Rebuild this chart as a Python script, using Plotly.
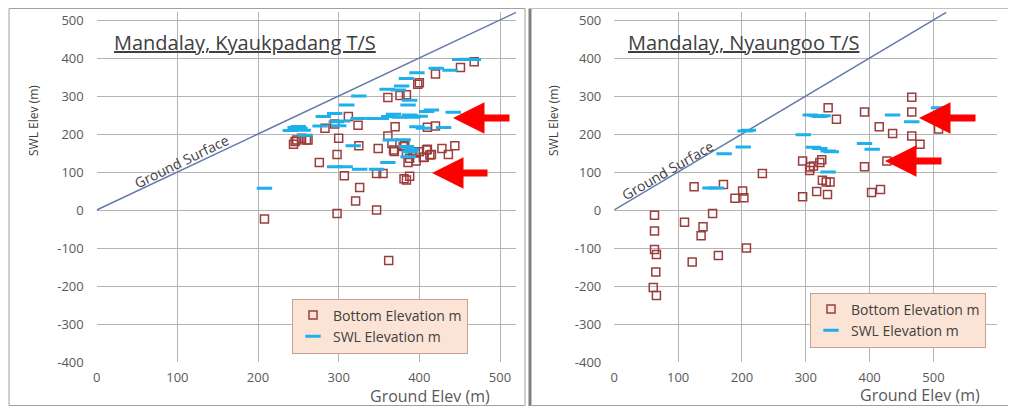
import plotly.graph_objects as go

# ---------------- data ----------------
GROUND_LINE = [0, 520]

K_BOTTOM_X = [208, 298, 347, 362, 321, 326, 307, 276, 298, 300, 312, 324, 325, 283, 295,
              244, 246, 248, 254, 260, 262, 349, 347, 355, 361, 366, 369, 370, 361, 376,
              384, 382, 384, 386, 381, 384, 388, 398, 400, 395, 396, 400, 406, 410, 415,
              410, 420, 420, 428, 436, 444, 451, 468, 388, 392, 368, 380, 409, 413, 405]
K_BOTTOM_Y = [-24, -9, 0, -133, 24, 59, 90, 125, 146, 189, 246, 223, 169, 215, 226,
              173, 180, 184, 189, 184, 184, 162, 96, 96, 195, 175, 154, 219, 296, 301,
              303, 170, 149, 125, 82, 79, 89, 331, 335, 151, 129, 153, 139, 160, 146,
              218, 221, 358, 162, 146, 169, 375, 390, 136, 153, 158, 167, 158, 145, 138]

K_SWL_X = [208, 240, 246, 252, 256, 258, 250, 277, 281, 295, 297, 310, 325, 318, 295,
           308, 326, 347, 324, 343, 353, 362, 364, 361, 360, 368, 374, 378, 384, 388,
           380, 384, 388, 386, 397, 401, 392, 388, 386, 397, 409, 415, 421, 438, 442,
           430, 450, 467, 459, 405, 375, 390, 300, 305]
K_SWL_Y = [57, 209, 217, 215, 210, 197, 220, 221, 246, 254, 232, 276, 300, 169, 114,
           114, 107, 107, 241, 241, 241, 246, 184, 125, 318, 252, 316, 326, 346, 250,
           185, 167, 289, 276, 361, 247, 244, 153, 140, 219, 259, 263, 373, 368, 257,
           217, 396, 396, 397, 215, 244, 160, 222, 234]

N_BOTTOM_X = [63, 63, 63, 66, 65, 61, 66, 110, 139, 136, 154, 122, 163, 207, 125, 171,
              201, 189, 203, 232, 295, 295, 307, 306, 312, 317, 322, 325, 326, 332, 338,
              334, 335, 348, 392, 392, 403, 417, 415, 436, 466, 466, 466, 479, 508, 427]
N_BOTTOM_Y = [-14, -55, -104, -117, -163, -204, -225, -32, -44, -68, -9, -137, -120, -100,
              61, 67, 50, 31, 32, 96, 129, 35, 113, 104, 116, 49, 125, 132, 78, 74, 74,
              41, 269, 239, 258, 114, 46, 54, 219, 201, 297, 258, 195, 173, 213, 129]

N_SWL_X = [150, 160, 172, 202, 210, 205, 296, 307, 317, 327, 322, 312, 322, 335, 340,
           335, 392, 404, 436, 466, 508]
N_SWL_Y = [58, 58, 148, 166, 210, 208, 198, 250, 248, 248, 246, 165, 162, 155, 153,
           100, 175, 160, 250, 232, 269]

X_TICKS_LEFT = [0, 100, 200, 300, 400, 500]
X_TICKS_RIGHT = [0, 100, 200, 300, 400, 500, 600]
Y_TICKS = [-400, -300, -200, -100, 0, 100, 200, 300, 400, 500]
Y_TICK_LABELS = ["-400", "-300", "-200", "-100", "0", "100", "200", "300", "400", "500"]

# ---------------- style ----------------
OFF = 8                      # page body margin of the browser
W, H = 1000, 398
SQ_COLOR = "#9B3D3D"
SWL_COLOR = "#1DB0EA"
LINE_COLOR = "#6477AE"
GRID = "#B4B4B4"
TXT = "#595959"
DARK = "#404040"
FONT = "Open Sans"


def px(x):
    return (x - OFF) / W


def py(y):
    return 1 - (y - OFF) / H


fig = go.Figure()

# Left panel
fig.add_trace(go.Scatter(x=GROUND_LINE, y=GROUND_LINE, mode="lines",
                         line=dict(color=LINE_COLOR, width=1.4),
                         showlegend=False, xaxis="x", yaxis="y", hoverinfo="skip"))
fig.add_trace(go.Scatter(x=K_BOTTOM_X, y=K_BOTTOM_Y, mode="markers", name="Bottom Elevation m",
                         marker=dict(symbol="square-open", size=8, color=SQ_COLOR,
                                     line=dict(width=1.5, color=SQ_COLOR)),
                         xaxis="x", yaxis="y", legend="legend"))
fig.add_trace(go.Scatter(x=K_SWL_X, y=K_SWL_Y, mode="markers", name="SWL Elevation m",
                         marker=dict(symbol="line-ew", size=11, color=SWL_COLOR,
                                     line=dict(width=3, color=SWL_COLOR)),
                         xaxis="x", yaxis="y", legend="legend"))

# Right panel
fig.add_trace(go.Scatter(x=GROUND_LINE, y=GROUND_LINE, mode="lines",
                         line=dict(color=LINE_COLOR, width=1.4),
                         showlegend=False, xaxis="x2", yaxis="y2", hoverinfo="skip"))
fig.add_trace(go.Scatter(x=N_BOTTOM_X, y=N_BOTTOM_Y, mode="markers", name="Bottom Elevation m",
                         marker=dict(symbol="square-open", size=8, color=SQ_COLOR,
                                     line=dict(width=1.5, color=SQ_COLOR)),
                         xaxis="x2", yaxis="y2", legend="legend2"))
fig.add_trace(go.Scatter(x=N_SWL_X, y=N_SWL_Y, mode="markers", name="SWL Elevation m",
                         marker=dict(symbol="line-ew", size=11, color=SWL_COLOR,
                                     line=dict(width=3, color=SWL_COLOR)),
                         xaxis="x2", yaxis="y2", legend="legend2"))

axis_common = dict(showgrid=True, gridcolor=GRID, gridwidth=1, zeroline=False,
                   showline=False, ticks="", automargin=False,
                   tickfont=dict(family=FONT, size=13, color=TXT))

# pixel geometry (in reference window pixels)
LX0, LX500 = 96.7, 500.0          # left x: 0 -> 96.7px, 500 -> 500px
RX0, RX600 = 614.3, 997.3         # right x
Y500, YM400 = 20.0, 362.0         # y: 500 -> 20px, -400 -> 362px
lsc = (LX500 - LX0) / 500
ysc = (YM400 - Y500) / 900
XMAX_L = 520
YMAX = 522
ytop = Y500 - (YMAX - 500) * ysc

fig.update_layout(
    width=W, height=H, margin=dict(l=0, r=0, t=0, b=0, autoexpand=False),
    paper_bgcolor="white", plot_bgcolor="white",
    xaxis=dict(axis_common, range=[0, XMAX_L], tickvals=X_TICKS_LEFT,
               domain=[px(LX0), px(LX0 + XMAX_L * lsc)], anchor="y", ticklabelstandoff=6),
    yaxis=dict(axis_common, range=[-400, YMAX], tickvals=Y_TICKS, ticktext=Y_TICK_LABELS,
               domain=[py(YM400), py(ytop)], anchor="x", ticklabelstandoff=12),
    xaxis2=dict(axis_common, range=[0, 600], tickvals=X_TICKS_RIGHT,
                domain=[px(RX0), px(RX600)], anchor="y2", ticklabelstandoff=6),
    yaxis2=dict(axis_common, range=[-400, YMAX], tickvals=Y_TICKS, ticktext=Y_TICK_LABELS,
                domain=[py(YM400), py(ytop)], anchor="x2", ticklabelstandoff=12),
    legend=dict(x=px(292), y=py(326), xanchor="left", yanchor="middle",
                bgcolor="#FBE4D6", bordercolor="#C9A08F", borderwidth=1,
                font=dict(family=FONT, size=14, color=DARK),
                itemwidth=30, tracegroupgap=0),
    legend2=dict(x=px(810), y=py(320), xanchor="left", yanchor="middle",
                 bgcolor="#FBE4D6", bordercolor="#C9A08F", borderwidth=1,
                 font=dict(family=FONT, size=14, color=DARK),
                 itemwidth=30, tracegroupgap=0),
    showlegend=True,
)

ann = []
# titles
ann.append(dict(text="<u>Mandalay, Kyaukpadang T/S</u>", x=px(112), y=py(42), xanchor="left",
                yanchor="middle", font=dict(family=FONT, size=20, color=DARK)))
ann.append(dict(text="<u>Mandalay, Nyaungoo T/S</u>", x=px(626), y=py(42), xanchor="left",
                yanchor="middle", font=dict(family=FONT, size=20, color=DARK)))
# axis titles
for xc in (33, 553):
    ann.append(dict(text="SWL Elev (m)", x=px(xc), y=py(121), textangle=-90,
                    xanchor="center", yanchor="middle",
                    font=dict(family=FONT, size=12, color=DARK)))
ann.append(dict(text="Ground Elev (m)", x=px(430), y=py(396), xanchor="center", yanchor="middle",
                font=dict(family=FONT, size=16, color=TXT)))
ann.append(dict(text="Ground Elev (m)", x=px(920), y=py(395), xanchor="center", yanchor="middle",
                font=dict(family=FONT, size=16, color=TXT)))
# ground surface labels
ann.append(dict(text="Ground Surface", x=px(181), y=py(161), textangle=-26,
                xanchor="center", yanchor="middle", font=dict(family=FONT, size=14, color=DARK)))
ann.append(dict(text="Ground Surface", x=px(667), y=py(170), textangle=-30,
                xanchor="center", yanchor="middle", font=dict(family=FONT, size=14, color=DARK)))
for a in ann:
    a.update(xref="paper", yref="paper", showarrow=False)

# red arrows (tip, tail length)
for tx, ty, ln in [(453, 118, 58), (432, 173, 57), (919, 118, 58), (885, 161, 58)]:
    ann.append(dict(x=px(tx), y=py(ty), xref="paper", yref="paper", ax=ln, ay=0,
                    axref="pixel", ayref="pixel", text="", showarrow=True,
                    arrowhead=2, arrowsize=0.9, arrowwidth=7, arrowcolor="#FF0000",
                    standoff=0, startstandoff=0))
fig.update_layout(annotations=ann)

# panel frames
shapes = [
    dict(type="rect", xref="paper", yref="paper", x0=px(9), x1=px(525), y0=py(405.5), y1=py(8.5),
         line=dict(color="#A0A0A0", width=1)),
    dict(type="line", xref="paper", yref="paper", x0=px(530), x1=px(530), y0=py(406), y1=py(8.5),
         line=dict(color="#808080", width=3)),
    dict(type="line", xref="paper", yref="paper", x0=px(530), x1=px(1008), y0=py(8.5), y1=py(8.5),
         line=dict(color="#C0C0C0", width=1)),
    dict(type="line", xref="paper", yref="paper", x0=px(530), x1=px(1008), y0=py(405.5), y1=py(405.5),
         line=dict(color="#A0A0A0", width=1)),
]
fig.update_layout(shapes=shapes)

fig.write_html("out.html")
